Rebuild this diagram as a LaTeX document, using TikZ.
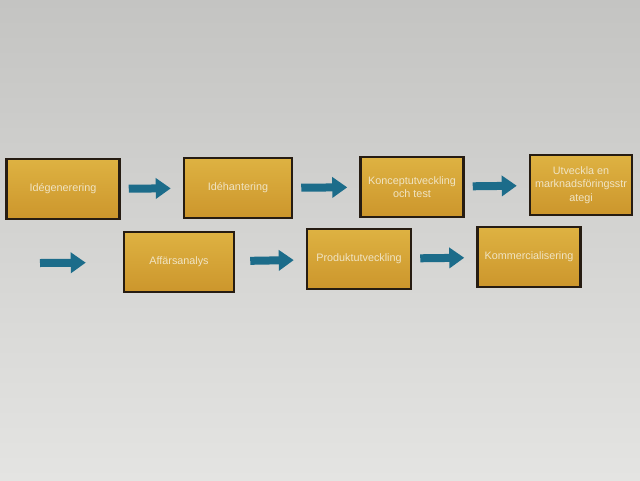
\documentclass[tikz,border=0pt]{standalone}
\usepackage{fontspec}
\setmainfont{Liberation Sans}
\usetikzlibrary{arrows.meta}
\definecolor{bgtop}{RGB}{196,196,194}
\definecolor{bgbot}{RGB}{228,228,226}
\definecolor{guldljus}{RGB}{222,178,66}
\definecolor{guldmork}{RGB}{204,150,44}
\definecolor{kant}{RGB}{38,28,18}
\definecolor{textfarg}{RGB}{240,228,196}
\definecolor{pilfarg}{RGB}{28,108,138}
\begin{document}
\begin{tikzpicture}[x=1pt, y=-1pt]
	\tikzstyle{fas} = [rectangle, minimum height=60pt, draw=kant, line width=2.5pt, top color=guldljus, bottom color=guldmork, text=textfarg, font=\fontsize{10.8}{13.5}\selectfont, align=center, inner sep=2pt]
	\tikzstyle{pil} = [draw=pilfarg, line width=8pt, -{Triangle[width=20pt, length=15pt]}, shorten <=8pt, shorten >=12pt]

	\shade[top color=bgtop, bottom color=bgbot] (0,0) rectangle (640,480);

	\foreach \name/\x/\y/\w/\label in {a/63/189/113/Idégenerering, b/238/188/108/Idéhantering, c/412/187/103/{Konceptutveckling\\och test}, d/581/185/102/{Utveckla en\\marknadsföringsstr\\ategi}, e/179/262/110/Affärsanalys, f/359/259/104/Produktutveckling, g/529/257/103/Kommercialisering}
		\node[fas, minimum width=\w pt] (\name) at (\x, \y) {\label};

	\coordinate (start) at (40, 263);

	\foreach \from/\to in {a/b, b/c, c/d, f/g}
		\draw[pil] (\from) -- (\to);

	\draw[pil, shorten <=15pt] (e) -- (f);
	\draw[pil, shorten <=0pt, shorten >=37pt] (start) -- (e);
\end{tikzpicture}
\end{document}
